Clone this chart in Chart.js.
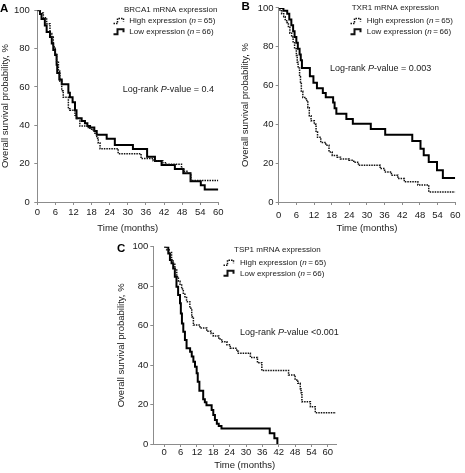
<!DOCTYPE html>
<html><head><meta charset="utf-8">
<script src="https://cdn.jsdelivr.net/npm/chart.js@4/dist/chart.umd.min.js"></script>
<style>
html,body{margin:0;padding:0;background:#fff;}
body{width:465px;height:473px;position:relative;overflow:hidden;}
canvas{position:absolute;}
</style></head><body>
<canvas id="cA" width="232" height="235" style="left:0;top:0;width:232px;height:235px"></canvas>
<canvas id="cB" width="233" height="235" style="left:232px;top:0;width:233px;height:235px"></canvas>
<canvas id="cC" width="240" height="238" style="left:110px;top:235px;width:240px;height:238px"></canvas>
<script>
// ---------- data ----------
const xTicks = [0, 6, 12, 18, 24, 30, 36, 42, 48, 54, 60];
const yTicks = [0, 20, 40, 60, 80, 100];
const xTitle = 'Time (months)';
const yTitle = 'Overall survival probability, %';
const seriesNames = ['High expression', 'Low expression'];
const seriesN = [65, 66];
const genes = ['BRCA1', 'TXR1', 'TSP1'];
const pValueText = ['= 0.4', '= 0.003', '<0.001'];
const panelLetters = ['A', 'B', 'C'];

// Panel A: BRCA1
const brcaHighT = [0, 1.0, 2.0, 3.1, 4.2, 4.8, 5.3, 5.9, 6.4, 7.0, 7.5, 8.1, 8.6, 10.3, 10.8, 12.5, 13.0, 14.1, 16.9, 18.0, 19.1, 19.7, 20.2, 20.8, 26.8, 34.4, 38.4, 41.6, 42.8, 47.8, 48.6, 49.6, 50.9, 60];
const brcaHighS = [100, 98.5, 96, 92.9, 87.8, 86, 81, 77.6, 73.3, 68.2, 63, 58, 54.6, 48.6, 47.8, 45.2, 43.5, 39.6, 38.4, 37.5, 35.9, 33.3, 30.8, 27.8, 25.2, 22.7, 21.5, 20.4, 19.7, 17.5, 16, 15, 11.2, 11.2];
const brcaLowT = [0, 0.9, 1.4, 2.5, 3.1, 4.2, 4.8, 5.3, 5.9, 6.4, 6.6, 7.3, 8.1, 10.3, 10.8, 11.7, 12.5, 13.0, 14.7, 15.8, 16.6, 17.5, 18.9, 19.7, 23.0, 25.7, 31.7, 36.4, 39.0, 41.2, 45.6, 48.4, 50.8, 54.2, 55.5, 60];
const brcaLowS = [100, 98, 95.4, 92, 88.6, 86, 82.7, 79.3, 76.7, 71.6, 67.3, 63.9, 61.4, 57, 54.6, 52, 47.8, 43.7, 42.2, 41, 39.6, 38.8, 37, 35, 33, 29.7, 27.6, 23.6, 21.4, 19.3, 17.2, 15, 10.8, 8.7, 6.5, 6.5];

// Panel B: TXR1
const txrHighT = [0, 0.4, 1.0, 1.7, 2.2, 2.7, 3.3, 3.8, 4.4, 4.9, 5.4, 6.0, 6.3, 6.6, 7.1, 7.4, 7.7, 8.2, 9.3, 9.9, 10.4, 11.0, 12.1, 12.7, 13.2, 14.3, 16.0, 17.1, 18.2, 19.9, 21.0, 23.9, 25.5, 27.1, 34.5, 36.0, 38.3, 40.5, 42.7, 47.3, 51.0, 60];
const txrHighS = [100, 98.5, 97, 95.5, 94, 92.5, 90, 87, 85, 82.5, 79, 75.5, 72, 69, 64.5, 61, 57, 53.8, 52.3, 48.6, 44.5, 41.8, 40, 36, 33.3, 30.7, 29.2, 25.8, 24, 23.1, 22.2, 21.5, 20.5, 18.9, 17.2, 15.5, 13.8, 12.1, 10.4, 8.7, 5.2, 5.2];
const txrLowT = [0, 1.6, 2.9, 3.6, 4.3, 4.9, 5.4, 6.0, 6.5, 7.1, 7.5, 7.9, 10.6, 11.8, 13.0, 15.0, 16.0, 18.5, 19.0, 19.6, 23.0, 25.2, 31.3, 36.2, 45.4, 48.2, 49.3, 51.0, 53.8, 55.8, 60];
const txrLowS = [100, 98.5, 97, 94, 91, 88, 85, 82, 79, 76, 73, 69, 64.8, 61.4, 58.6, 56.2, 54, 51.2, 48.3, 45.5, 42.8, 40.3, 37.6, 34.6, 31.4, 27.4, 24.1, 20.6, 16.3, 12.4, 12.4];

// Panel C: TSP1
const tspHighT = [0, 0.9, 1.8, 2.7, 3.3, 3.9, 4.6, 5.2, 5.8, 6.4, 7.0, 7.6, 8.2, 9.4, 10.1, 10.7, 13.1, 15.6, 17.2, 18.0, 20.0, 21.1, 23.0, 24.2, 26.6, 27.2, 31.6, 34.2, 35.8, 45.6, 48.0, 49.0, 49.9, 50.2, 50.5, 53.6, 55.4, 63];
const tspHighS = [100, 98.5, 97, 93.3, 91.5, 88.2, 84.8, 82.5, 80.6, 78.5, 76.4, 74.2, 72.1, 68.8, 64.5, 60.3, 58.8, 57.2, 56.0, 54.7, 53.2, 51.8, 50.3, 48.5, 47.0, 46.0, 43.9, 41.2, 37.2, 35.0, 32.5, 30.8, 28.0, 26.0, 21.4, 18.9, 15.9, 15.9];
const tspLowT = [0, 1.5, 2.1, 2.7, 3.3, 3.9, 4.5, 5.1, 5.8, 6.1, 6.5, 7.0, 7.6, 8.2, 9.5, 10.1, 10.7, 11.3, 11.9, 12.3, 12.9, 14.3, 14.9, 15.5, 17.4, 18.0, 18.6, 19.3, 20.0, 21.0, 38.7, 40.4, 41.5];
const tspLowS = [100, 96.6, 93.2, 91.6, 89, 84.8, 79.7, 75.5, 71.3, 66.2, 61.1, 56.9, 52.7, 48.5, 46.8, 44.3, 41.7, 39.2, 35.8, 31.6, 27.0, 22.7, 21.2, 19.7, 17.2, 14.7, 12.2, 10.3, 9.1, 7.9, 5.4, 2.9, 0];

// ---------- drawing ----------
const FONT = '"Liberation Sans", Arial, Helvetica, sans-serif';
const INK = '#1a1a1a';
const AXIS = '#8c8c8c';
Chart.defaults.font.family = FONT;

function pts(t, s) { return t.map((x, i) => ({ x: x, y: s[i] })); }

function richText(ctx, x, y, parts, size) {
  let cx = x;
  ctx.textBaseline = 'middle';
  ctx.textAlign = 'left';
  ctx.fillStyle = INK;
  for (const [txt, it] of parts) {
    ctx.font = (it ? 'italic ' : '') + size + 'px ' + FONT;
    ctx.fillText(txt, cx, y);
    cx += ctx.measureText(txt).width;
  }
}

function stepIcon(ctx, x, y, dashed) {
  ctx.save();
  ctx.strokeStyle = '#111';
  ctx.lineWidth = dashed ? 1.5 : 2;
  ctx.setLineDash(dashed ? [1.5, 1] : []);
  ctx.beginPath();
  ctx.moveTo(x, y + 2.5);
  ctx.lineTo(x + 4, y + 2.5);
  ctx.lineTo(x + 4, y - 2.5);
  ctx.lineTo(x + 10, y - 2.5);
  ctx.lineTo(x + 10, y + 0.5);
  ctx.stroke();
  ctx.restore();
}

function makePanel(id, idx, p) {
  const el = document.getElementById(id);
  const W = el.width, H = el.height;
  const annot = {
    id: 'annot' + idx,
    afterDraw(chart) {
      const ctx = chart.ctx;
      ctx.save();
      ctx.fillStyle = '#000';
      ctx.font = 'bold 11.5px ' + FONT;
      ctx.textBaseline = 'middle';
      ctx.textAlign = 'left';
      ctx.fillText(panelLetters[idx], p.letter[0], p.letter[1]);
      richText(ctx, p.legTitle[0], p.legTitle[1], [[genes[idx] + ' mRNA expression', false]], 8);
      stepIcon(ctx, p.legIconX, p.legRows[0], true);
      stepIcon(ctx, p.legIconX, p.legRows[1], false);
      for (let k = 0; k < 2; k++) {
        richText(ctx, p.legTextX, p.legRows[k],
          [[seriesNames[k] + ' (', false], ['n', true], ['\u2009=\u2009' + seriesN[k] + ')', false]], 8);
      }
      richText(ctx, p.pv[0], p.pv[1],
        [['Log-rank ', false], ['P', true], ['-value ' + pValueText[idx], false]], 9);
      ctx.restore();
    }
  };
  return new Chart(el, {
    type: 'line',
    data: {
      datasets: [
        { label: seriesNames[0], data: pts(p.highT, p.highS), stepped: 'before',
          borderColor: '#111', borderWidth: 1.5, borderDash: [1.5, 1], pointRadius: 0, fill: false },
        { label: seriesNames[1], data: pts(p.lowT, p.lowS), stepped: 'before',
          borderColor: '#000', borderWidth: 2, pointRadius: 0, fill: false }
      ]
    },
    options: {
      responsive: false, animation: false, devicePixelRatio: 1,
      layout: { padding: { left: 0, top: p.area.top, right: W - p.area.right, bottom: 0 } },
      plugins: { legend: { display: false }, tooltip: { enabled: false } },
      scales: {
        x: {
          type: 'linear', min: p.xMin, max: p.xMax,
          afterFit: s => { s.height = H - p.area.bottom; },
          afterBuildTicks: s => { s.ticks = xTicks.map(v => ({ value: v })); },
          ticks: { font: { size: 9.5, family: FONT }, color: INK, padding: p.xTickPad, maxRotation: 0, autoSkip: false },
          grid: { drawOnChartArea: false, drawTicks: true, tickLength: 3, color: AXIS, tickColor: AXIS },
          border: { color: AXIS, width: 1 },
          title: { display: true, text: xTitle, font: { size: 9.5, family: FONT }, color: INK, padding: { top: 0, bottom: p.xTitlePad } }
        },
        y: {
          type: 'linear', min: 0, max: 100,
          afterFit: s => { s.width = p.area.left; },
          afterBuildTicks: s => { s.ticks = yTicks.map(v => ({ value: v })); },
          ticks: { font: { size: 9.5, family: FONT }, color: INK, padding: p.yTickPad },
          grid: { drawOnChartArea: false, drawTicks: true, tickLength: 3, color: AXIS, tickColor: AXIS },
          border: { color: AXIS, width: 1 },
          title: { display: true, text: yTitle, font: { size: 9.5, family: FONT }, color: INK, padding: { top: p.yTitlePad, bottom: 0 } }
        }
      }
    },
    plugins: [annot]
  });
}

makePanel('cA', 0, {
  highT: brcaHighT, highS: brcaHighS, lowT: brcaLowT, lowS: brcaLowS,
  xMin: 0, xMax: 60,
  area: { left: 37.3, top: 6, right: 218.3, bottom: 202 },
  xTickPad: 1.5, xTitlePad: 1.3, yTickPad: 4.5, yTitlePad: 0,
  letter: [0, 8.5], legTitle: [124, 9.7], legRows: [21, 31.7], legIconX: 113.5, legTextX: 129.3,
  pv: [122.7, 89.3]
});
makePanel('cB', 1, {
  highT: txrHighT, highS: txrHighS, lowT: txrLowT, lowS: txrLowS,
  xMin: 0, xMax: 60,
  area: { left: 46.7, top: 6, right: 226.7, bottom: 202 },
  xTickPad: 4.5, xTitlePad: 0.6, yTickPad: 2.2, yTitlePad: 7.3,
  letter: [9.5, 7], legTitle: [119.7, 7.3], legRows: [21, 31.7], legIconX: 118.5, legTextX: 134.7,
  pv: [98, 68.3]
});
makePanel('cC', 2, {
  highT: tspHighT, highS: tspHighS, lowT: tspLowT, lowS: tspLowS,
  xMin: -4, xMax: 63,
  area: { left: 43.3, top: 11.7, right: 226, bottom: 209 },
  xTickPad: 0, xTitlePad: 1.6, yTickPad: 2, yTitlePad: 6,
  letter: [7, 14], legTitle: [124, 15], legRows: [27.7, 38.3], legIconX: 113.5, legTextX: 130,
  pv: [130, 97.7]
});
</script>
</body></html>
